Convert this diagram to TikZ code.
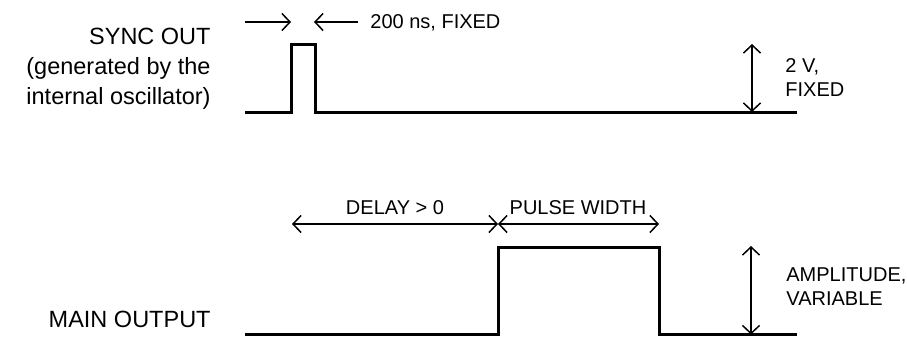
\documentclass[tikz,border=0pt]{standalone}
\usepackage{fontspec}
\setmainfont{Liberation Sans}
\usetikzlibrary{arrows.meta, positioning}

\begin{document}
\begin{tikzpicture}[
    x=0.5pt, y=-0.5pt,
    signal/.style={line width=1.5pt},
    dimline/.style={line width=0.75pt, -{Straight Barb[length=4pt, width=8.5pt]}},
    dimboth/.style={line width=0.75pt, {Straight Barb[length=4pt, width=8.5pt]}-{Straight Barb[length=4pt, width=8.5pt]}},
    biglabel/.style={inner sep=0pt, font=\fontsize{11.75}{15}\selectfont},
    smalllabel/.style={inner sep=0pt, align=left, font=\fontsize{10}{12}\selectfont}
]
    \useasboundingbox (0,0) rectangle (907,337);

    % Channel names
    \node[biglabel, align=right, anchor=north east] (syncname) at (211,28) {SYNC OUT\\(generated by the\\internal oscillator)};
    \node[biglabel, anchor=base east] (mainname) at (211,327) {MAIN OUTPUT};

    % Sync out pulse
    \coordinate (sup) at (291,44);
    \coordinate (sdown) at (315,112);
    \draw[signal] (245,112) -- (291,112) -- (sup) -- (315,44) -- (sdown) -- (797,112);

    % Main output pulse
    \coordinate (mup) at (498,247);
    \coordinate (mdown) at (659,334.5);
    \draw[signal] (245,334.5) -- (498,334.5) -- (mup) -- (659,247) -- (mdown) -- (797,334.5);

    % Sync width marks
    \node[smalllabel, anchor=base west] (widthlbl) at (370,28) {200 ns, FIXED};
    \coordinate (wl0) at (245,22);
    \coordinate (wl1) at (291,22);
    \coordinate (wr0) at (358,22);
    \coordinate (wr1) at (314,22);
    \draw[dimline] (wl0) -- (wl1);
    \draw[dimline] (wr0) -- (wr1);

    % Sync amplitude
    \coordinate (sa0) at (752,112);
    \coordinate (sa1) at (752,44);
    \draw[dimboth] (sa0) -- (sa1);
    \node[smalllabel, anchor=north west] (syncamp) at (785,58) {2 V,\\FIXED};

    % Delay and width
    \coordinate (d0) at (292,224);
    \coordinate (d1) at (498,224);
    \coordinate (d2) at (659,224);
    \draw[dimboth] (d0) -- (d1);
    \draw[dimboth] (d1) -- (d2);
    \node[smalllabel, anchor=base] (delaylbl) at (395,214) {DELAY > 0};
    \node[smalllabel, anchor=base] (pwlbl) at (578,214) {PULSE WIDTH};

    % Main amplitude
    \coordinate (ma0) at (751,334.5);
    \coordinate (ma1) at (751,246);
    \draw[dimboth] (ma0) -- (ma1);
    \node[smalllabel, anchor=north west] (mainamp) at (786,267) {AMPLITUDE,\\VARIABLE};
\end{tikzpicture}
\end{document}
